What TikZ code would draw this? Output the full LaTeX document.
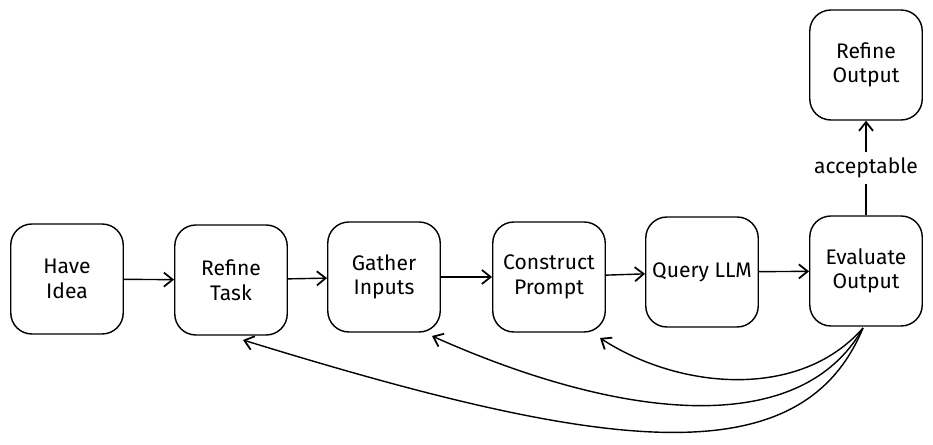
\documentclass[tikz,border=0pt]{standalone}
\usepackage{fontspec}
\setmainfont{Fira Sans}
\usetikzlibrary{arrows.meta}

\begin{document}
\begin{tikzpicture}[x=0.02cm,y=-0.02cm,>={Straight Barb[length=5pt,width=8pt,line width=1pt]}]
  \tikzset{step box/.style={draw, thick, rounded corners=12pt, minimum width=2.25cm, minimum height=2.2cm, align=center, font=\large}}
  \tikzstyle{flow} = [thick,->];
  \useasboundingbox (0,0) rectangle (933,445);

  \node[step box] (idea)     at (67,279)  {Have\\Idea};
  \node[step box] (task)     at (231,280) {Refine\\Task};
  \node[step box] (inputs)   at (384,277) {Gather\\Inputs};
  \node[step box] (prompt)   at (549,277) {Construct\\Prompt};
  \node[step box] (query)    at (702,272) {Query LLM};
  \node[step box] (evaluate) at (866,271) {Evaluate\\Output};
  \node[step box] (refine)   at (866,65)  {Refine\\Output};

  % main line
  \draw[flow] (idea) -- (task);
  \draw[flow] (task) -- (inputs);
  \draw[flow] (inputs) -- (prompt);
  \draw[flow] (prompt) -- (query);
  \draw[flow] (query) -- (evaluate);
  \draw[flow] (evaluate) -- node[fill=white, font=\large] {acceptable} (refine);

  % loops back
  \coordinate (ev) at (863,328);
  \draw[flow] (ev) .. controls (800,400) and (680,390) .. (600,338);
  \draw[flow] (ev) .. controls (800,440) and (620,420) .. (432,336);
  \draw[flow] (ev) .. controls (800,480) and (600,450) .. (243,340);
\end{tikzpicture}
\end{document}
